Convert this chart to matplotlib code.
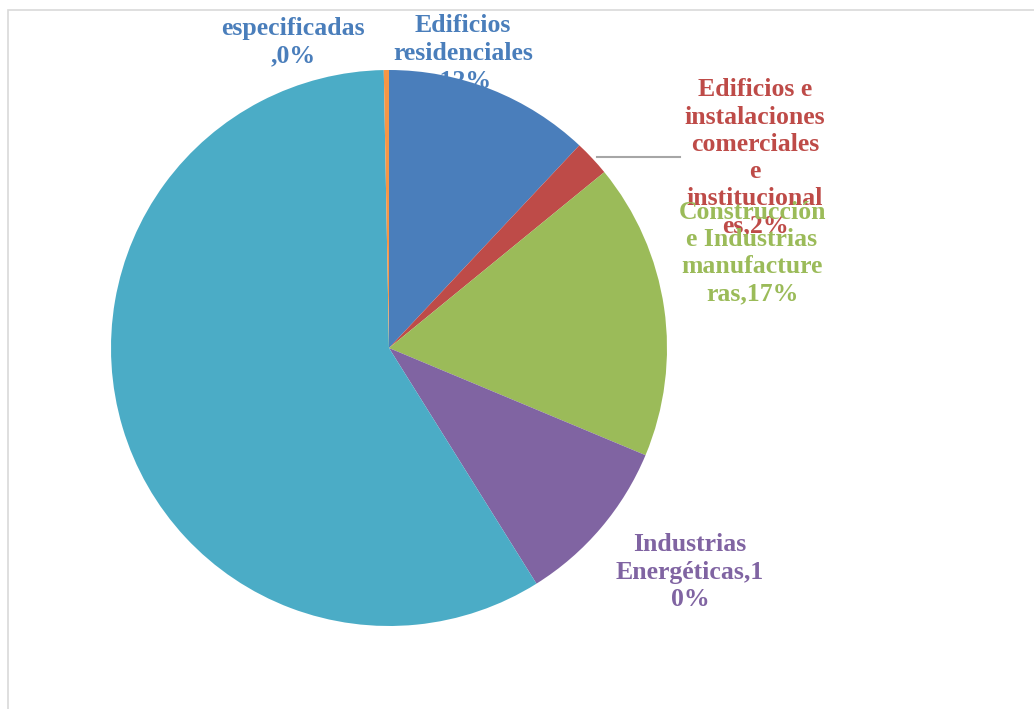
import matplotlib
matplotlib.use("Agg")
import matplotlib.pyplot as plt
from matplotlib.patches import Rectangle

# sectores (% de emisiones), en sentido horario desde arriba
sectores = ["Edificios residenciales", "Edificios e instalaciones comerciales e institucionales",
            "Construcción e Industrias manufactureras", "Industrias Energéticas",
            "Transporte", "No especificadas"]
valores = [12.0, 2.1, 17.2, 9.8, 58.6, 0.3]
colores = ["#4a7ebb", "#be4b48", "#9bbb59", "#8064a2", "#4bacc6", "#f79646"]
col_texto = ["#4a7ebb", "#be4b48", "#9bbb59", "#8064a2", None, "#4a7ebb"]

# etiquetas tal como aparecen (texto partido)
etiquetas = ["Edificios\nresidenciales\n,12%",
             "Edificios e\ninstalaciones\ncomerciales\ne\ninstitucional\nes,2%",
             "Construcción\ne Industrias\nmanufacture\nras,17%",
             "Industrias\nEnergéticas,1\n0%",
             None,
             "especificadas\n,0%"]
pos_etiq = [(463, 53), (755, 158), (752, 253), (690, 572), None, (293, 42)]

W, H = 1034, 709
fig = plt.figure(figsize=(W / 100, H / 100), dpi=100)
ax = fig.add_axes([0, 0, 1, 1])

# marco gris claro
ax.add_patch(Rectangle((8, -20), W + 20, H - 10 + 20, fill=False, edgecolor="#d9d9d9", lw=1.2, zorder=0))

for txt, pos, c in zip(etiquetas, pos_etiq, col_texto):
    if txt is None:
        continue
    ax.text(pos[0], H - pos[1], txt, color=c, fontsize=18.5, fontweight="bold",
            family="Liberation Serif", ha="center", va="center", linespacing=1.24, zorder=1)

wedges, _ = ax.pie(valores, colors=colores, startangle=90, counterclock=False,
                   center=(389, H - 348), radius=278, frame=True,
                   wedgeprops=dict(linewidth=0))
for w in wedges:
    w.set_zorder(2)
ax.set_xlim(0, W)
ax.set_ylim(0, H)
ax.set_aspect("auto")
ax.axis("off")

# línea guía de la etiqueta comercial
ax.plot([597, 680], [H - 157, H - 157], color="#a6a6a6", lw=1.5, zorder=3)

fig.savefig("out.png", dpi=100)
